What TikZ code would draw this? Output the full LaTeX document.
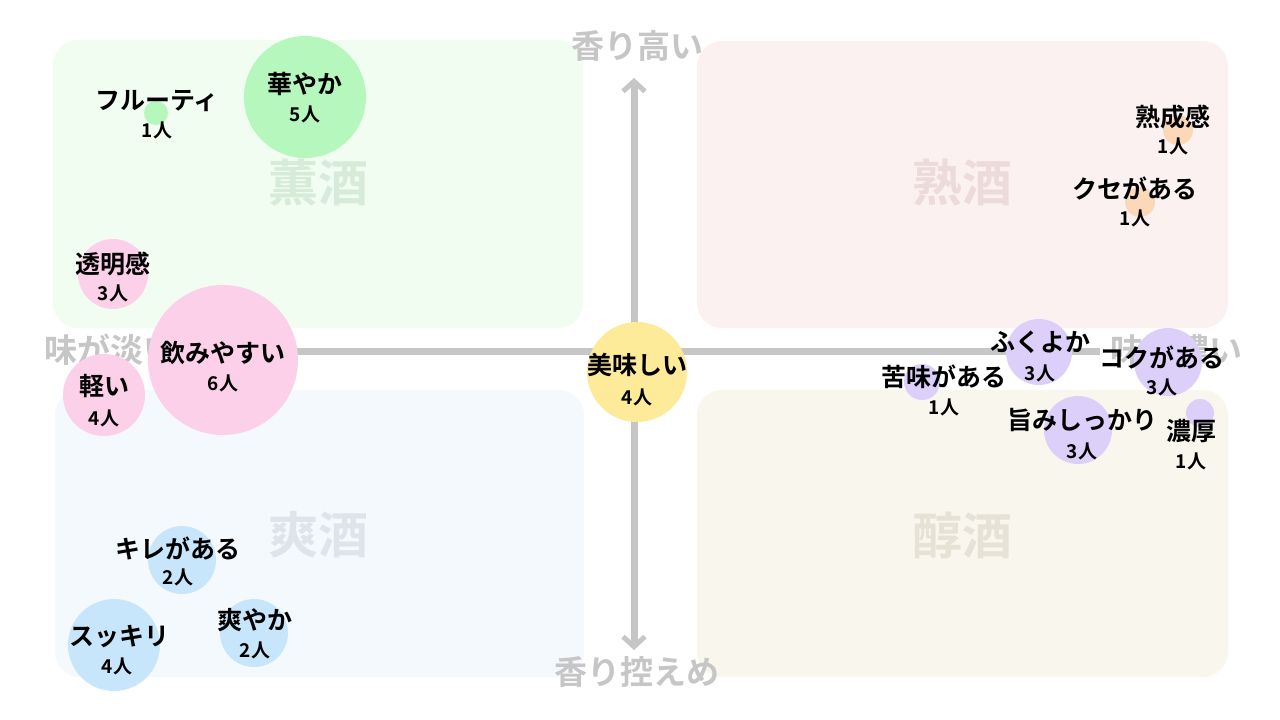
\documentclass[tikz,border=0pt]{standalone}
\usepackage{fontspec}
\setmainfont{Noto Sans CJK JP}[BoldFont={* Bold}]
\usetikzlibrary{arrows.meta}
\definecolor{qg}{HTML}{F2FDF1}\definecolor{qr}{HTML}{FCF1F1}
\definecolor{qb}{HTML}{F4F9FE}\definecolor{qy}{HTML}{F9F7ED}
\definecolor{cg}{HTML}{B5F7BD}\definecolor{cp}{HTML}{FDD0EA}
\definecolor{cb}{HTML}{C8E6FB}\definecolor{cy}{HTML}{FDEB9A}
\definecolor{co}{HTML}{FAD8B8}\definecolor{cl}{HTML}{DCD0FB}
\definecolor{ax}{HTML}{C6C6C6}
\definecolor{tg}{HTML}{D6EBD8}\definecolor{tr}{HTML}{EDDADA}
\definecolor{tb}{HTML}{DFE4EB}\definecolor{ty}{HTML}{E6E2D6}
\tikzset{
 quad/.style={rounded corners=25pt},
 ql/.style={font=\bfseries\fontsize{50}{50}\selectfont},
 axl/.style={font=\bfseries\fontsize{33}{33}\selectfont,text=ax},
 nm/.style={font=\bfseries\fontsize{25}{25}\selectfont,inner sep=0},
 ct/.style={font=\bfseries\fontsize{19}{19}\selectfont,inner sep=0},
 axis/.style={draw=ax,line width=7pt,-{Straight Barb[length=10pt,width=22pt,line width=5pt]}}
}
\begin{document}
\begin{tikzpicture}[x=1pt,y=-1pt]
\useasboundingbox (0,0) rectangle (1280,720);
\fill[white] (0,0) rectangle (1280,720);
\fill[qg,quad] (53,40) rectangle (583,328);
\fill[qr,quad] (697,41) rectangle (1228,328);
\fill[qb,quad] (55,390) rectangle (584,677);
\fill[qy,quad] (697,390) rectangle (1228,677);
\node[ql,text=tg] (q1) at (318,183) {薫酒};
\node[ql,text=tr] (q2) at (962,183) {熟酒};
\node[ql,text=tb] (q3) at (318,535) {爽酒};
\node[ql,text=ty] (q4) at (962,535) {醇酒};
\coordinate (hl) at (190,351); \coordinate (hr) at (1100,351);
\coordinate (vc) at (634,351);
\coordinate (vt) at (634,78); \coordinate (vb) at (634,650);
\draw[draw=ax,line width=7pt] (hl) -- (hr);
\draw[axis] (vc) -- (vt);
\draw[axis] (vc) -- (vb);
\node[axl] (at) at (637,46) {香り高い};
\node[axl] (ab) at (637,672) {香り控えめ};
\node[axl] (al) at (110,350) {味が淡い};
\node[axl] (ar) at (1176,350) {味が濃い};
% bubbles
\fill[cg] (305,97) circle (61);
\fill[cg] (156,113) circle (12);
\fill[cp] (113,274) circle (35);
\fill[cp] (223,360) circle (75);
\fill[cp] (104,395) circle (41);
\fill[cb] (182,560) circle (34);
\fill[cb] (114,645) circle (46);
\fill[cb] (254,633) circle (34);
\fill[cy] (637,372) circle (50);
\fill[co] (1178,130) circle (15);
\fill[co] (1140,202) circle (15);
\fill[cl] (1039,352) circle (33);
\fill[cl] (1168,362) circle (34);
\fill[cl] (922,382) circle (18);
\fill[cl] (1078,430) circle (34);
\fill[cl] (1200,413) circle (14);
% labels
\node[nm] (n1) at (305,84) {華やか}; \node[ct] (c1) at (305,114) {5人};
\node[nm] (n2) at (157,101) {フルーティ}; \node[ct] (c2) at (157,130) {1人};
\node[nm] (n3) at (113,264) {透明感}; \node[ct] (c3) at (113,293) {3人};
\node[nm] (n4) at (223,353) {飲みやすい}; \node[ct] (c4) at (223,383) {6人};
\node[nm] (n5) at (104,386) {軽い}; \node[ct] (c5) at (104,418) {4人};
\node[nm] (n6) at (178,548) {キレがある}; \node[ct] (c6) at (178,577) {2人};
\node[nm] (n7) at (119,636) {スッキリ}; \node[ct] (c7) at (117,666) {4人};
\node[nm] (n8) at (255,620) {爽やか}; \node[ct] (c8) at (255,650) {2人};
\node[nm] (n9) at (637,365) {美味しい}; \node[ct] (c9) at (637,397) {4人};
\node[nm] (n10) at (1173,117) {熟成感}; \node[ct] (c10) at (1173,146) {1人};
\node[nm] (n11) at (1135,188) {クセがある}; \node[ct] (c11) at (1135,218) {1人};
\node[nm] (n12) at (1040,342) {ふくよか}; \node[ct] (c12) at (1040,373) {3人};
\node[nm] (n13) at (1162,357) {コクがある}; \node[ct] (c13) at (1162,387) {3人};
\node[nm] (n14) at (944,377) {苦味がある}; \node[ct] (c14) at (944,407) {1人};
\node[nm] (n15) at (1082,420) {旨みしっかり}; \node[ct] (c15) at (1082,451) {3人};
\node[nm] (n16) at (1191,431) {濃厚}; \node[ct] (c16) at (1191,461) {1人};
\end{tikzpicture}
\end{document}
